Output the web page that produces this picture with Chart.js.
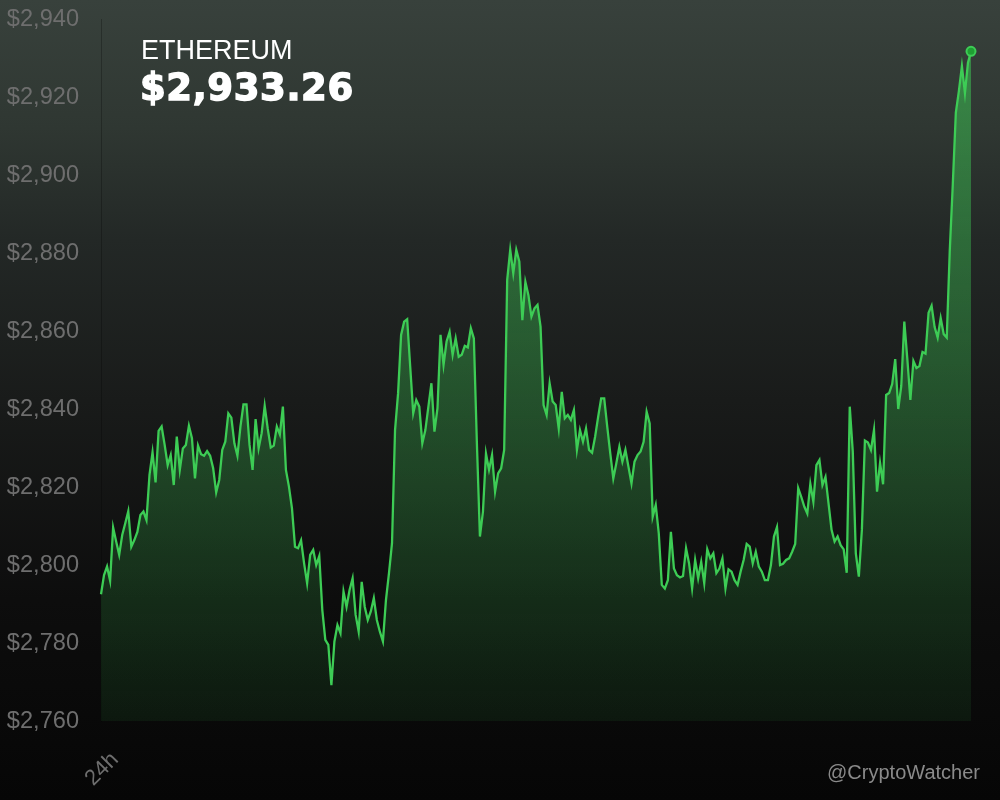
<!DOCTYPE html>
<html>
<head>
<meta charset="utf-8">
<title>Ethereum 24h</title>
<script src="https://cdn.jsdelivr.net/npm/chart.js@4.4.1/dist/chart.umd.min.js"></script>
<style>
  html, body { margin: 0; padding: 0; }
  body {
    width: 1000px;
    height: 800px;
    overflow: hidden;
    position: relative;
    background: linear-gradient(180deg, #38413c 0%, #2f3732 16%, #232826 30%, #191b1a 50%, #0d0d0d 75%, #060606 100%);
    font-family: "Liberation Sans", Arial, sans-serif;
  }
  #priceChart { position: absolute; left: 0; top: 0; }
  .coin { position: absolute; left: 141px; top: 37px; font-size: 27px; line-height: 1; color: #ffffff; }
  .price { position: absolute; left: 140px; top: 69px; font: bold 37px/1 "DejaVu Sans", sans-serif; letter-spacing: 0.6px; color: #ffffff; -webkit-text-stroke: 1.4px #ffffff; }
  .handle { position: absolute; right: 20px; top: 762px; font-size: 20px; line-height: 1; color: #8a8a8a; }
</style>
</head>
<body>
<canvas id="priceChart" width="1000" height="800"></canvas>
<div class="coin" id="coinName"></div>
<div class="price" id="coinPrice"></div>
<div class="handle" id="handle"></div>
<script>
const coinName = 'ETHEREUM';
const lastPrice = '$2,933.26';
const handle = '@CryptoWatcher';

const timeLabels = ['24h'];

const yMin = 2760;
const yMax = 2940;
const yStep = 20;

// 5-minute closes over 24h (288 points)
const prices = [
    2792.5, 2797.4, 2799.6, 2796.0, 2809.6, 2806.0, 2802.6, 2807.7, 2810.7, 2813.8,
    2804.7, 2806.4, 2808.5, 2812.8, 2813.7, 2811.5, 2823.1, 2828.9, 2821.2, 2834.4,
    2835.5, 2830.8, 2825.6, 2828.2, 2820.5, 2832.9, 2824.4, 2829.9, 2830.8, 2835.7,
    2832.5, 2822.2,
    2830.6, 2828.4, 2828.0, 2829.2, 2828.0, 2824.8, 2818.6, 2821.8, 2829.5, 2831.6,
    2838.9, 2837.8, 2831.2, 2828.0, 2835.5, 2841.2, 2841.2, 2830.8, 2824.4, 2837.4,
    2829.9, 2833.8, 2840.8, 2835.0, 2830.1, 2830.6, 2835.5, 2833.5, 2840.6, 2824.4,
    2820.1, 2814.5, 2804.7,
    2804.3, 2806.3, 2800.4, 2795.3, 2802.6, 2803.9, 2800.0, 2802.3, 2788.5, 2780.8,
    2779.5, 2769.2, 2780.4, 2784.6, 2782.5, 2793.2, 2789.3, 2793.6, 2796.6, 2787.2,
    2782.9, 2795.7, 2789.3, 2785.9, 2788.1, 2791.5, 2785.9, 2782.9, 2780.4, 2791.0,
    2797.9, 2805.6, 2834.6, 2844.0, 2859.0, 2862.4, 2863.0, 2850.9, 2838.9, 2842.3,
    2840.6, 2831.2, 2834.6, 2840.6, 2846.6, 2834.2, 2840.2, 2859.0, 2851.3, 2857.3,
    2859.8, 2853.9, 2858.1, 2853.4, 2853.9, 2856.2, 2855.8, 2860.7, 2858.1, 2831.2,
    2807.3, 2813.7, 2828.6, 2824.4,
    2828.2, 2818.8, 2823.5, 2824.8, 2829.5, 2873.1, 2880.8, 2874.8, 2880.8, 2877.8,
    2862.8, 2872.6, 2869.2, 2863.7, 2865.8, 2866.7, 2861.1, 2841.0, 2838.5, 2846.6,
    2841.9, 2841.0, 2835.0, 2844.4, 2837.6, 2838.5, 2837.2, 2839.7, 2829.5, 2834.6,
    2831.6, 2835.0, 2829.5, 2828.8, 2832.9, 2838.0, 2842.7, 2842.7, 2835.5, 2828.6,
    2822.2, 2826.1, 2830.3, 2826.5, 2829.5, 2825.2, 2820.9, 2826.5, 2828.2, 2829.1,
    2831.6, 2839.3, 2836.3, 2812.4, 2815.4, 2808.1, 2794.9, 2794.0, 2796.1, 2808.5,
    2799.1, 2797.4, 2796.8, 2797.2,
    2804.3, 2800.4, 2794.0, 2801.3, 2796.6, 2800.8, 2795.3, 2804.0, 2801.7, 2803.0,
    2797.9, 2799.1, 2801.7, 2794.0, 2798.9, 2798.3, 2796.1, 2794.9, 2798.3, 2801.3,
    2805.4, 2804.7, 2800.4, 2803.4, 2799.6, 2798.3, 2796.1, 2796.1, 2800.0, 2807.3,
    2809.7, 2800.0, 2800.3, 2801.3, 2801.7, 2803.4, 2805.4, 2819.7, 2817.5, 2815.0,
    2813.2, 2820.8, 2816.2, 2825.6, 2826.9, 2820.5, 2822.6, 2815.8, 2809.0, 2806.0,
    2807.3, 2805.1, 2804.0, 2798.0, 2840.6, 2829.1, 2803.0, 2797.0, 2809.0, 2831.9,
    2831.4, 2829.5, 2834.6, 2818.8,
    2826.2, 2820.7, 2843.6, 2844.1, 2846.4, 2852.8, 2840.0, 2845.9, 2862.4, 2852.8,
    2842.3, 2852.3, 2850.5, 2851.0, 2854.6, 2854.2, 2864.7, 2866.5, 2861.0, 2858.3,
    2863.3, 2859.2, 2858.3, 2880.7, 2897.7, 2916.0, 2921.5, 2927.9, 2921.0, 2928.8,
    2931.7
];

const lineColor = '#3dcc55';
const tickColor = '#6e6e6e';

document.getElementById('coinName').textContent = coinName;
document.getElementById('coinPrice').textContent = lastPrice;
document.getElementById('handle').textContent = handle;

Chart.defaults.font.family = '"Liberation Sans", Arial, sans-serif';

function areaFill(context) {
    const area = context.chart.chartArea;
    if (!area) return 'rgba(61, 204, 85, 0.3)';
    const g = context.chart.ctx.createLinearGradient(0, area.top, 0, area.bottom);
    g.addColorStop(0, 'rgba(61, 204, 85, 0.55)');
    g.addColorStop(0.6, 'rgba(61, 204, 85, 0.28)');
    g.addColorStop(1, 'rgba(61, 204, 85, 0.08)');
    return g;
}

const lastIndex = prices.length - 1;

new Chart(document.getElementById('priceChart'), {
    type: 'line',
    data: {
        labels: prices.map((_, i) => timeLabels[i] || ''),
        datasets: [{
            label: coinName,
            data: prices,
            borderColor: lineColor,
            borderWidth: 2.3,
            tension: 0,
            fill: 'start',
            backgroundColor: areaFill,
            pointRadius: (c) => c.dataIndex === lastIndex ? 4.5 : 0,
            pointHoverRadius: 0,
            pointBackgroundColor: '#1f9f33',
            pointBorderColor: lineColor,
            pointBorderWidth: 2
        }]
    },
    options: {
        responsive: false,
        animation: false,
        layout: { padding: { left: 6, right: 29, top: 19, bottom: 0 } },
        plugins: {
            legend: { display: false },
            tooltip: { enabled: false }
        },
        scales: {
            x: {
                grid: { display: false, drawTicks: false },
                border: { display: false },
                ticks: {
                    autoSkip: false,
                    minRotation: 45,
                    maxRotation: 45,
                    color: tickColor,
                    padding: 26,
                    labelOffset: 14,
                    font: { size: 22 }
                },
                afterFit: (scale) => {
                    scale.height = 79;
                    scale.paddingLeft = 0;
                    scale.paddingRight = 0;
                }
            },
            y: {
                min: yMin,
                max: yMax,
                grid: { display: false, drawTicks: false },
                border: { display: true, color: 'rgba(0, 0, 0, 0.25)', width: 1 },
                ticks: {
                    stepSize: yStep,
                    color: tickColor,
                    padding: 22,
                    font: { size: 23.6 },
                    callback: (v) => '$' + v.toLocaleString('en-US')
                },
                afterFit: (scale) => {
                    scale.width = 95;
                    scale.paddingTop = 0;
                    scale.paddingBottom = 0;
                }
            }
        }
    }
});
</script>
</body>
</html>
